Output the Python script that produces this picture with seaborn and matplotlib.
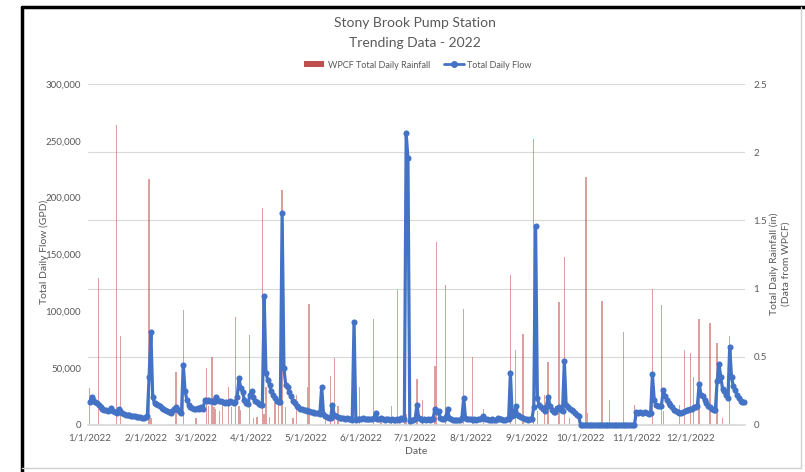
import numpy as np
import pandas as pd
import matplotlib
matplotlib.use("Agg")
import matplotlib.pyplot as plt
import matplotlib.ticker as mticker
from matplotlib.lines import Line2D
from matplotlib.patches import Patch
import seaborn as sns

# ---------------- data ----------------
flow_jan = [20500, 25000, 22000, 20000, 19000, 17500, 16000, 14500, 13500, 13000, 12500, 13000, 15000, 12500, 11500,
            10500, 14000, 12000, 10500, 9500, 9000, 8800, 8500, 8000, 7800, 7500, 7200, 7000, 6800, 6500, 6000]
flow_feb = [7000, 7500, 42500, 81500, 24500, 19000, 18500, 18000, 16500, 15000, 14500, 13500, 12500, 11500, 10500,
            12000, 14500, 16000, 13000, 11000, 10500, 53000, 30000, 22000, 18000, 16000, 15000, 14500]
flow_mar = [14000, 15000, 14500, 15500, 14000, 22000, 21500, 22000, 21000, 21500, 20500, 25000, 22000, 21500, 21000,
            20500, 19500, 20000, 19000, 21000, 20500, 19500, 20500, 25000, 41000, 32500, 29000, 22000, 19000, 18500, 26000]
flow_apr = [30000, 25000, 21500, 20000, 18500, 17500, 18000, 113500, 46000, 39500, 35000, 29500, 26500, 23500, 21500,
            20500, 20000, 186500, 50000, 35000, 33500, 29000, 25500, 21500, 19000, 16500, 15500, 14500, 14000, 13500]
flow_may = [13200, 12500, 12000, 11500, 11000, 10500, 10300, 10300, 10000, 33500, 10000, 7500, 7000, 6500, 6500,
            18000, 8800, 7500, 7000, 6500, 6500, 6000, 5500, 6000, 5000, 5000, 4500, 91000, 4500, 5000, 5500]
flow_jun = [5500, 6000, 5000, 5500, 5000, 5500, 5500, 6000, 10500, 5500, 5000, 6000, 5000, 4500, 5000,
            5500, 4500, 5000, 4000, 4500, 5000, 4500, 6000, 5000, 5000, 256500, 234500, 3500, 4000, 4500]
flow_jul = [5000, 18000, 6000, 5000, 4500, 5000, 4500, 5000, 4500, 5000, 5500, 14500, 11000, 12500, 6000,
            5000, 5500, 7000, 14000, 6500, 5000, 4500, 4500, 4000, 4500, 4500, 6000, 24000, 6000, 5000, 5500]
flow_aug = [5000, 4500, 5000, 4500, 5000, 5500, 6000, 8000, 5500, 5000, 4500, 4500, 5000, 4500, 4500,
            6000, 5500, 5000, 4500, 4500, 5000, 5500, 46000, 7500, 9000, 16500, 8500, 7500, 7000, 6000, 5500]
flow_sep = [5000, 4500, 5000, 5500, 16000, 175000, 23500, 17500, 15500, 14000, 12500, 16000, 25000, 17000, 13500,
            11500, 11000, 15000, 16000, 13500, 12500, 56000, 17500, 15500, 14500, 13000, 12000, 10500, 9000, 7500]
flow_oct = [0] * 31
flow_nov = [11500, 10500, 11000, 10500, 10500, 11000, 10500, 10000, 10500, 44500, 22000, 17500, 16500, 16500, 17000,
            30500, 25500, 22000, 19500, 17500, 15500, 13500, 12000, 11000, 10300, 10500, 11500, 12500, 13000, 13500]
flow_dec = [14000, 14500, 15500, 16000, 17000, 36000, 26500, 25500, 22000, 19500, 17000, 15500, 14500, 13500, 13000,
            38500, 54000, 42500, 32000, 29500, 26500, 23500, 69000, 42000, 34000, 31000, 26500, 24000, 21500, 20500, 20000]

rain_dates = ["1/1", "1/6", "1/16", "1/18", "2/3", "2/4", "2/18", "2/22", "3/1", "3/7", "3/8", "3/10", "3/11",
              "3/12", "3/14", "3/16", "3/19", "3/21", "3/23", "3/25", "3/26", "3/31", "4/2", "4/4", "4/7", "4/8",
              "4/9", "4/11", "4/14", "4/16", "4/18", "4/20", "4/24", "4/26", "5/2", "5/3", "5/12", "5/15", "5/17",
              "5/19", "5/31", "6/8", "6/12", "6/18", "6/21", "6/25", "6/26", "7/2", "7/5", "7/12", "7/13", "7/18",
              "7/28", "8/2", "8/8", "8/13", "8/23", "8/26", "8/30", "9/5", "9/7", "9/11", "9/13", "9/19", "9/22",
              "9/25", "10/4", "10/5", "10/13", "10/17", "10/25", "10/31", "11/10", "11/15", "11/16", "11/25",
              "11/28", "12/1", "12/3", "12/6", "12/12", "12/16", "12/19", "12/23"]
rain_in = [0.27, 1.08, 2.20, 0.65, 1.80, 0.05, 0.39, 0.84, 0.05, 0.42, 0.14, 0.50, 0.13,
           0.12, 0.10, 0.17, 0.28, 0.13, 0.79, 0.14, 0.11, 0.66, 0.05, 0.06, 1.59, 0.08,
           0.28, 0.06, 0.17, 0.18, 1.72, 0.13, 0.05, 0.22, 0.28, 0.89, 0.04, 0.36, 0.49,
           0.14, 0.28, 0.78, 0.04, 0.14, 0.99, 0.20, 0.08, 0.34, 0.18, 0.43, 1.34, 1.03,
           0.85, 0.50, 0.12, 0.04, 1.10, 0.55, 0.67, 2.10, 0.10, 0.22, 0.46, 0.90, 1.23,
           0.05, 1.82, 0.09, 0.91, 0.18, 0.68, 0.15, 1.00, 0.88, 0.10, 0.15,
           0.55, 0.53, 0.35, 0.78, 0.75, 0.60, 0.05, 0.65]

tick_labels = ["1/1/2022", "2/1/2022", "3/1/2022", "4/1/2022", "5/1/2022", "6/1/2022",
               "7/1/2022", "8/1/2022", "9/1/2022", "10/1/2022", "11/1/2022", "12/1/2022"]
flow_ticks = [0, 50000, 100000, 150000, 200000, 250000, 300000]
rain_ticks = [0, 0.5, 1, 1.5, 2, 2.5]

# ---------------- build frames ----------------
flow = (flow_jan + flow_feb + flow_mar + flow_apr + flow_may + flow_jun +
        flow_jul + flow_aug + flow_sep + flow_oct + flow_nov + flow_dec)
start = pd.Timestamp("2022-01-01")
df_flow = pd.DataFrame({"Date": pd.date_range(start, periods=len(flow), freq="D"), "Flow": flow})
df_rain = pd.DataFrame({"Date": pd.to_datetime([d + "/2022" for d in rain_dates], format="%m/%d/%Y"),
                        "Rain": rain_in})

# ---------------- style ----------------
sns.set_theme(style="white")
plt.rcParams["font.family"] = ["Lato", "DejaVu Sans"]
GRAY = "#595959"
BLUE = "#4472C4"
RED = "#C0504D"

fig = plt.figure(figsize=(8.05, 4.72), dpi=100)
ax = fig.add_axes([88 / 805, 1 - 425 / 472, 657 / 805, 341 / 472])
ax2 = ax.twinx()
ax.set_zorder(ax2.get_zorder() + 1)
ax.patch.set_visible(False)

# rainfall bars (right axis)
ax2.bar(df_rain["Date"], df_rain["Rain"], width=0.75, color=RED, alpha=0.55, linewidth=0)
ax2.set_ylim(0, 2.5)
ax2.set_yticks(rain_ticks)
ax2.yaxis.set_major_formatter(mticker.FuncFormatter(lambda v, p: f"{v:g}"))
ax2.grid(axis="y", color="#D9D9D9", linewidth=0.8)
ax2.set_axisbelow(True)

# flow line (left axis)
sns.lineplot(data=df_flow, x="Date", y="Flow", ax=ax, color=BLUE, marker="o", markersize=4.4,
             markeredgewidth=0, linewidth=2.3)
for ln in ax.lines:
    ln.set_clip_on(False)
    ln.set_zorder(5)
ax.set_ylim(0, 300000)
ax.set_yticks(flow_ticks)
ax.yaxis.set_major_formatter(mticker.FuncFormatter(lambda v, p: f"{v:,.0f}"))

x0 = start - pd.Timedelta(days=1)
x1 = start + pd.Timedelta(days=364.5)
ax.set_xlim(x0, x1)
month_starts = pd.date_range(start, periods=12, freq="MS")
ax.set_xticks(month_starts)
ax.set_xticklabels(tick_labels)
ax.set_xlabel("")
ax.set_ylabel("")
ax2.set_ylabel("")

for a in (ax, ax2):
    for s in a.spines.values():
        s.set_visible(False)
    a.tick_params(length=0, labelsize=7, labelcolor=GRAY)
ax.tick_params(axis="y", pad=5)
ax2.tick_params(axis="y", pad=6)
ax.tick_params(axis="x", pad=6)
ax.spines["bottom"].set_visible(True)
ax.spines["bottom"].set_color("#D9D9D9")
ax.spines["bottom"].set_zorder(1)

# titles and labels
fig.text(415 / 805, 1 - 23 / 472, "Stony Brook Pump Station", ha="center", va="center", fontsize=10, color=GRAY)
fig.text(415 / 805, 1 - 43 / 472, "Trending Data - 2022", ha="center", va="center", fontsize=10, color=GRAY)
fig.text(416 / 805, 1 - 452 / 472, "Date", ha="center", va="center", fontsize=7.5, color=GRAY)
fig.text(44 / 805, 1 - 252 / 472, "Total Daily Flow (GPD)", ha="center", va="center", rotation=90,
         fontsize=7.5, color=GRAY)
fig.text(780 / 805, 1 - 264 / 472, "Total Daily Rainfall (in)\n(Data from WPCF)", ha="center", va="center",
         rotation=90, fontsize=7.5, color=GRAY, multialignment="center", linespacing=1.3)

handles = [Patch(facecolor=RED, edgecolor="none"),
           Line2D([], [], color=BLUE, marker="o", markersize=4, linewidth=2)]
fig.legend(handles, ["WPCF Total Daily Rainfall", "Total Daily Flow"], loc="center",
           bbox_to_anchor=(418 / 805, 1 - 65 / 472), ncol=2, frameon=False, fontsize=6.5,
           handlelength=2.2, handleheight=0.6, columnspacing=1.5, handletextpad=0.4, labelcolor=GRAY)

# frame (screenshot border)
fig.add_artist(Line2D([22 / 805, 22 / 805], [0, 1 - 7 / 472], color="black", linewidth=2.5,
                      transform=fig.transFigure))
fig.add_artist(Line2D([22 / 805, 1], [1 - 7 / 472, 1 - 7 / 472], color="black", linewidth=2.5,
                      transform=fig.transFigure))
fig.add_artist(Line2D([801 / 805, 801 / 805], [1 - 468 / 472, 1 - 7 / 472], color="#D0D0D0", linewidth=1,
                      transform=fig.transFigure))
fig.add_artist(Line2D([22 / 805, 801 / 805], [1 - 468 / 472, 1 - 468 / 472], color="#D0D0D0", linewidth=1,
                      transform=fig.transFigure))

fig.savefig("out.png", dpi=100, facecolor="white")
